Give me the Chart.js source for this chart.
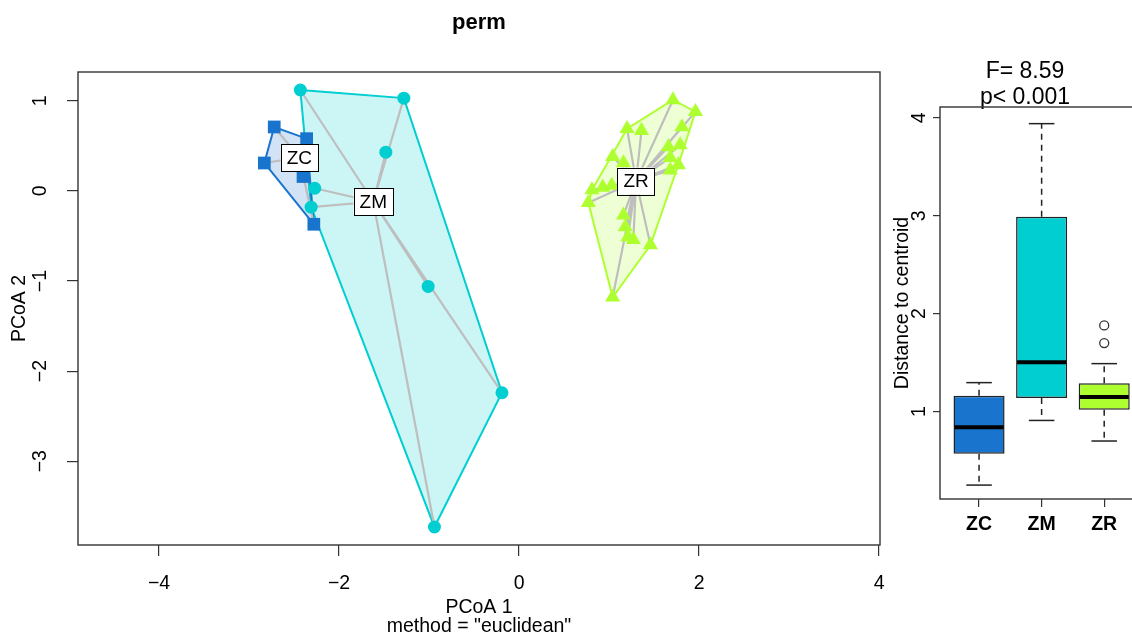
<!DOCTYPE html>
<html>
<head>
<meta charset="utf-8">
<title>perm</title>
<script src="https://cdn.jsdelivr.net/npm/chart.js@4.4.1/dist/chart.umd.min.js"></script>
<style>
  html, body { margin: 0; padding: 0; background: #fff; overflow: hidden; }
  #wrap { position: relative; width: 1132px; height: 640px; overflow: hidden; }
  #pcoa { position: absolute; left: 0; top: 0; }
  #disp { position: absolute; left: 890px; top: 0; }
</style>
</head>
<body>
<div id="wrap">
  <canvas id="pcoa" width="958" height="640"></canvas>
  <canvas id="disp" width="270" height="640"></canvas>
</div>
<script>
// groups
const groups = ['ZC', 'ZM', 'ZR'];
const groupColors = ['#1874CD', '#00CED1', '#ADFF2F'];
const groupFills = ['rgba(24,116,205,0.2)', 'rgba(0,206,209,0.2)', 'rgba(173,255,47,0.2)'];
const groupShapes = ['rect', 'circle', 'triangle'];
const groupSizes = [9, 6.5, 8.7];

// PCoA scores
const zcX = [-2.72, -2.36, -2.83, -2.40, -2.28];
const zcY = [0.71, 0.58, 0.31, 0.16, -0.37];
const zmX = [-2.43, -1.28, -1.48, -2.27, -2.31, -1.01, -0.19, -0.94];
const zmY = [1.12, 1.03, 0.43, 0.03, -0.18, -1.06, -2.24, -3.73];
const zrX = [1.71, 1.96, 1.20, 1.36, 1.81, 1.04, 1.66, 1.79, 1.68, 1.77, 1.68,
             1.16, 0.81, 0.93, 1.03, 0.77, 1.16, 1.18, 1.21, 1.27, 1.46, 1.04];
const zrY = [1.01, 0.88, 0.69, 0.67, 0.71, 0.38, 0.49, 0.51, 0.37, 0.29, 0.23,
             0.31, 0.01, 0.04, 0.06, -0.13, -0.27, -0.40, -0.51, -0.54, -0.60, -1.18];

// group centroids (spider centres / labels)
const centroidX = [-2.44, -1.62, 1.30];
const centroidY = [0.37, -0.12, 0.11];

const xTicks = [-4, -2, 0, 2, 4];
const yTicks = [1, 0, -1, -2, -3];

// distance to centroid boxplot
const boxLow = [0.25, 0.91, 0.70];
const boxQ1 = [0.57, 1.14, 1.02];
const boxMed = [0.84, 1.505, 1.15];
const boxQ3 = [1.163, 2.99, 1.29];
const boxHigh = [1.296, 3.94, 1.49];
const zrOutliers = [1.70, 1.88];
const distTicks = [1, 2, 3, 4];
const statLines = ['F= 8.59', 'p< 0.001'];

const FONT = '"Liberation Sans", Arial, Helvetica, sans-serif';
Chart.defaults.font.family = FONT;
Chart.defaults.color = '#000';

function toPoints(xs, ys) {
    return xs.map((x, i) => ({ x: x, y: ys[i] }));
}

// convex hull, monotone chain
function hull(pts) {
    const p = pts.slice().sort((a, b) => a.x - b.x || a.y - b.y);
    const cross = (o, a, b) => (a.x - o.x) * (b.y - o.y) - (a.y - o.y) * (b.x - o.x);
    const lower = [];
    p.forEach(pt => {
        while (lower.length >= 2 && cross(lower[lower.length - 2], lower[lower.length - 1], pt) <= 0) lower.pop();
        lower.push(pt);
    });
    const upper = [];
    p.slice().reverse().forEach(pt => {
        while (upper.length >= 2 && cross(upper[upper.length - 2], upper[upper.length - 1], pt) <= 0) upper.pop();
        upper.push(pt);
    });
    upper.pop();
    lower.pop();
    return lower.concat(upper);
}

function minus(v) {
    return String(v).replace('-', '\u2212');
}

const frame = {
    id: 'frame',
    afterDraw(chart) {
        const a = chart.chartArea;
        const ctx = chart.ctx;
        ctx.save();
        ctx.strokeStyle = '#333';
        ctx.lineWidth = 1.4;
        ctx.strokeRect(a.left, a.top, a.right - a.left, a.bottom - a.top);
        ctx.restore();
    }
};

const groupLabels = {
    id: 'groupLabels',
    afterDatasetsDraw(chart) {
        const { ctx, scales: { x, y } } = chart;
        ctx.save();
        ctx.font = '19px ' + FONT;
        ctx.textAlign = 'center';
        ctx.textBaseline = 'middle';
        groups.forEach((name, g) => {
            const px = x.getPixelForValue(centroidX[g]);
            const py = y.getPixelForValue(centroidY[g]);
            const w = ctx.measureText(name).width + 12;
            const h = 27;
            ctx.fillStyle = '#fff';
            ctx.fillRect(px - w / 2, py - h / 2, w, h);
            ctx.strokeStyle = '#000';
            ctx.lineWidth = 1;
            ctx.strokeRect(Math.round(px - w / 2) + 0.5, Math.round(py - h / 2) + 0.5, Math.round(w), h);
            ctx.fillStyle = '#000';
            ctx.fillText(name, px, py + 1);
        });
        ctx.restore();
    }
};

const datasets = [];
[toPoints(zcX, zcY), toPoints(zmX, zmY), toPoints(zrX, zrY)].forEach((pts, g) => {
    const h = hull(pts);
    datasets.push({
        type: 'line',
        data: h.concat([h[0]]),
        borderColor: groupColors[g],
        backgroundColor: groupFills[g],
        borderWidth: 2,
        fill: 'shape',
        pointRadius: 0,
        tension: 0,
        order: 30
    });
    // spider: centre -> point -> centre -> ...
    const c = { x: centroidX[g], y: centroidY[g] };
    const spokes = [];
    pts.forEach(p => { spokes.push(c, p); });
    datasets.push({
        type: 'line',
        data: spokes,
        borderColor: '#BEBEBE',
        borderWidth: 2.2,
        borderJoinStyle: 'round',
        fill: false,
        pointRadius: 0,
        order: 20
    });
    datasets.push({
        type: 'scatter',
        data: pts,
        pointStyle: groupShapes[g],
        pointRadius: groupSizes[g],
        backgroundColor: groupColors[g],
        borderWidth: 0,
        order: 12 - g
    });
});

new Chart(document.getElementById('pcoa'), {
    type: 'scatter',
    data: { datasets: datasets },
    options: {
        responsive: false,
        animation: false,
        events: [],
        layout: { padding: { left: 0, right: 78, top: 0, bottom: 0 } },
        plugins: {
            legend: { display: false },
            tooltip: { enabled: false },
            title: {
                display: true,
                text: 'perm',
                fullSize: false,
                color: '#000',
                font: { size: 22, weight: 'bold' },
                padding: { top: 10, bottom: 35.6 }
            }
        },
        scales: {
            x: {
                type: 'linear',
                min: -4.9,
                max: 4.01,
                afterBuildTicks: s => { s.ticks = xTicks.map(v => ({ value: v })); },
                afterFit: s => { s.height = 95; },
                ticks: { font: { size: 19.5 }, padding: 16, color: '#000', callback: v => minus(v) },
                grid: { drawOnChartArea: false, drawTicks: true, tickLength: 11, color: '#333', lineWidth: 1.2 },
                border: { display: false },
                title: {
                    display: true,
                    text: ['PCoA 1', 'method = "euclidean"'],
                    color: '#000',
                    font: { size: 19.5, lineHeight: 19 / 19.5 },
                    padding: { top: 0, bottom: 3.5 }
                }
            },
            y: {
                type: 'linear',
                min: -3.93,
                max: 1.32,
                afterBuildTicks: s => { s.ticks = yTicks.map(v => ({ value: v })); },
                afterFit: s => { s.width = 78; },
                ticks: {
                    font: { size: 19.5 }, color: '#000', minRotation: 90, maxRotation: 90,
                    crossAlign: 'center', padding: 15.5, callback: v => minus(v)
                },
                grid: { drawOnChartArea: false, drawTicks: true, tickLength: 11, color: '#333', lineWidth: 1.2 },
                border: { display: false },
                title: { display: true, text: 'PCoA 2', color: '#000', font: { size: 19.5 }, padding: { top: 8, bottom: 0 } }
            }
        }
    },
    plugins: [frame, groupLabels]
});

// boxplot whiskers, caps and medians
const boxParts = {
    id: 'boxParts',
    afterDatasetsDraw(chart) {
        const { ctx, scales: { y } } = chart;
        const bars = chart.getDatasetMeta(0).data;
        ctx.save();
        const seg = (x1, y1, x2, y2) => {
            ctx.beginPath();
            ctx.moveTo(x1, y1);
            ctx.lineTo(x2, y2);
            ctx.stroke();
        };
        groups.forEach((g, i) => {
            const bar = bars[i];
            const cx = bar.x;
            const half = bar.width / 2;
            const cap = half / 2;
            const yLow = y.getPixelForValue(boxLow[i]);
            const yQ1 = y.getPixelForValue(boxQ1[i]);
            const yMed = y.getPixelForValue(boxMed[i]);
            const yQ3 = y.getPixelForValue(boxQ3[i]);
            const yHigh = y.getPixelForValue(boxHigh[i]);
            ctx.strokeStyle = '#222';
            ctx.lineWidth = 1.5;
            ctx.setLineDash([6, 5]);
            seg(cx, yQ3, cx, yHigh);
            seg(cx, yQ1, cx, yLow);
            ctx.setLineDash([]);
            seg(cx - cap, yHigh, cx + cap, yHigh);
            seg(cx - cap, yLow, cx + cap, yLow);
            ctx.strokeStyle = '#000';
            ctx.lineWidth = 4;
            seg(cx - half + 1, yMed, cx + half - 1, yMed);
        });
        ctx.restore();
    }
};

new Chart(document.getElementById('disp'), {
    type: 'bar',
    data: {
        datasets: [
            {
                type: 'bar',
                data: groups.map((g, i) => ({ x: i + 1, y: [boxQ1[i], boxQ3[i]] })),
                backgroundColor: groupColors,
                borderColor: '#222',
                borderWidth: 1.5,
                borderSkipped: false,
                categoryPercentage: 1,
                barPercentage: 0.816,
                order: 2
            },
            {
                type: 'scatter',
                data: zrOutliers.map(v => ({ x: 3, y: v })),
                pointStyle: 'circle',
                pointRadius: 4.5,
                borderColor: '#333',
                borderWidth: 1.3,
                backgroundColor: 'rgba(0,0,0,0)',
                order: 1
            }
        ]
    },
    options: {
        responsive: false,
        animation: false,
        events: [],
        layout: { padding: { left: 17, right: 17, top: 0, bottom: 0 } },
        plugins: {
            legend: { display: false },
            tooltip: { enabled: false },
            title: {
                display: true,
                text: statLines,
                color: '#000',
                font: { size: 23, weight: 'normal', lineHeight: 26.5 / 23 },
                padding: { top: 58, bottom: -4 }
            }
        },
        scales: {
            x: {
                type: 'linear',
                min: 0.376,
                max: 3.62,
                offset: false,
                afterBuildTicks: s => { s.ticks = groups.map((g, i) => ({ value: i + 1 })); },
                afterFit: s => { s.height = 141; },
                ticks: { font: { size: 19.5, weight: 'bold' }, color: '#000', padding: 6, callback: v => groups[v - 1] },
                grid: { offset: false, drawOnChartArea: false, drawTicks: true, tickLength: 8, color: '#333', lineWidth: 1.2 },
                border: { display: false }
            },
            y: {
                type: 'linear',
                min: 0.108,
                max: 4.11,
                afterBuildTicks: s => { s.ticks = distTicks.map(v => ({ value: v })); },
                afterFit: s => { s.width = 33; },
                ticks: {
                    font: { size: 19.5 }, color: '#000', minRotation: 90, maxRotation: 90,
                    crossAlign: 'center', padding: 7.5
                },
                grid: { drawOnChartArea: false, drawTicks: true, tickLength: 7, color: '#333', lineWidth: 1.2 },
                border: { display: false },
                title: { display: true, text: 'Distance to centroid', color: '#000', font: { size: 19.5 }, padding: { top: -16, bottom: 0 } }
            }
        }
    },
    plugins: [frame, boxParts]
});
</script>
</body>
</html>
